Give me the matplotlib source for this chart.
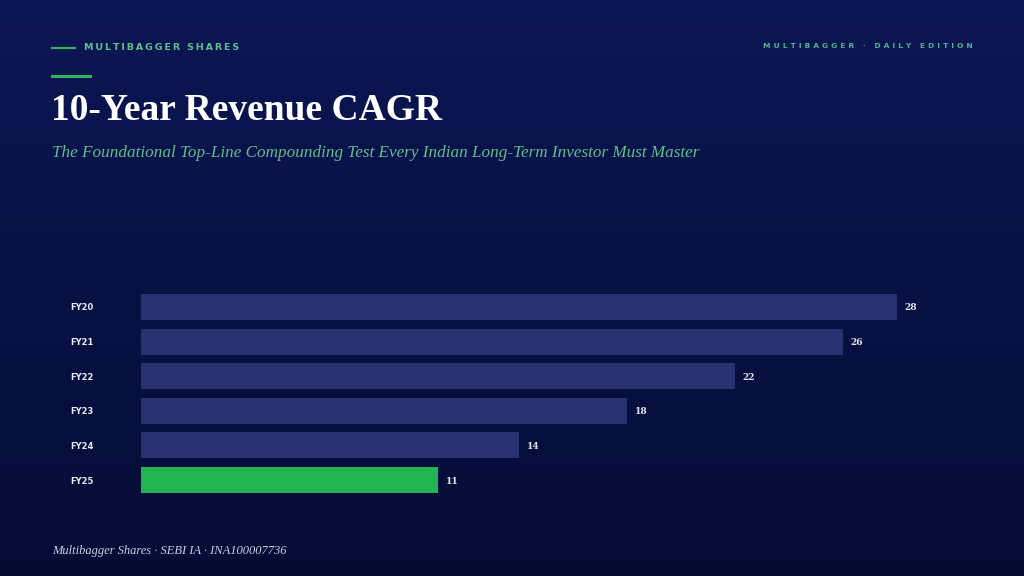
import numpy as np
import matplotlib
matplotlib.use("Agg")
import matplotlib.pyplot as plt
from matplotlib.lines import Line2D

categories = ["FY20", "FY21", "FY22", "FY23", "FY24", "FY25"]
values = [28, 26, 22, 18, 14, 11]
highlight = "FY25"

title = "10-Year Revenue CAGR"
subtitle = "The Foundational Top-Line Compounding Test Every Indian Long-Term Investor Must Master"
brand = "MULTIBAGGER SHARES"
edition = "MULTIBAGGER · DAILY EDITION"
footer = "Multibagger Shares · SEBI IA · INA100007736"

W, H = 1024, 576
fig = plt.figure(figsize=(W / 100, H / 100), dpi=100)

# background gradient
bg = fig.add_axes([0, 0, 1, 1], zorder=-10)
top = np.array([11, 22, 84]) / 255
bot = np.array([5, 12, 52]) / 255
t = np.linspace(0, 1, 256)[:, None]
grad = top[None, None, :] * (1 - t[..., None]) + bot[None, None, :] * t[..., None]
grad = np.repeat(grad, 2, axis=1)
bg.imshow(grad, aspect="auto", extent=[0, 1, 0, 1])
bg.set_axis_off()

def spaced(s, sep="\u2009"):
    return sep.join(s)

# header
fig.add_artist(Line2D([52 / W, 75 / W], [1 - 48 / H, 1 - 48 / H], color="#2db35e", lw=1.6))
fig.text(84 / W, 1 - 47 / H, spaced(brand), color="#5cc08a", fontsize=6.8, fontweight="bold",
         family="DejaVu Sans", va="center", ha="left")
fig.text(973 / W, 1 - 46 / H, spaced(edition, "\u2009\u2009"), color="#4fb38c", fontsize=5.4,
         fontweight="bold", family="DejaVu Sans", va="center", ha="right")
fig.add_artist(Line2D([52 / W, 90 / W], [1 - 76 / H, 1 - 76 / H], color="#2db35e", lw=2.2))

fig.text(51 / W, 1 - 111 / H, title, color="white", fontsize=27, fontweight="bold",
         family="Liberation Serif", va="center", ha="left")
fig.text(52 / W, 1 - 153 / H, subtitle, color="#5fbf86", fontsize=12.3, style="italic",
         family="Liberation Serif", va="center", ha="left")
fig.text(52 / W, 1 - 551 / H, footer, color="#c9cee2", fontsize=9, style="italic",
         family="Liberation Serif", va="center", ha="left")

# chart
ax_left, ax_right = 141 / W, 975 / W
ax_top, ax_bot = 1 - 289.7 / H, 1 - 497.3 / H
ax = fig.add_axes([ax_left, ax_bot, ax_right - ax_left, ax_top - ax_bot])
ax.set_facecolor("none")
y = np.arange(len(categories))
colors = ["#22b452" if c == highlight else "#283270" for c in categories]
ax.barh(y, values, height=0.75, color=colors)
ax.set_xlim(0, 834 / 27)
ax.set_ylim(len(categories) - 0.5, -0.5)
ax.set_yticks(y)
ax.set_yticklabels(categories, fontsize=6, fontweight="bold", color="#e8ebf5", family="DejaVu Sans")
for lab in ax.get_yticklabels():
    lab.set_ha("left")
ax.tick_params(axis="y", length=0, pad=51)
ax.set_xticks([])
for s in ax.spines.values():
    s.set_visible(False)
for yi, v in zip(y, values):
    ax.annotate(f"{v}", (v, yi), xytext=(5.5, 0), textcoords="offset points", va="center_baseline",
                ha="left", fontsize=6.5, fontweight="bold", color="#e4e7f2", family="DejaVu Serif")

fig.savefig("out.png", dpi=100)
